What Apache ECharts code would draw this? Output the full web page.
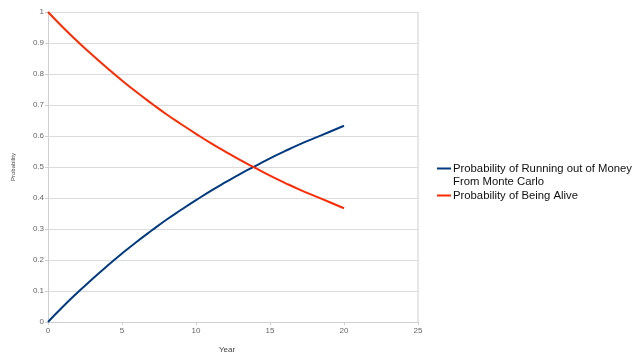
<!DOCTYPE html>
<html>
<head>
<meta charset="utf-8">
<script src="https://cdn.jsdelivr.net/npm/echarts@6/dist/echarts.min.js"></script>
<style>
html, body { margin: 0; padding: 0; background: #fff; }
#chart { width: 640px; height: 362px; }
</style>
</head>
<body>
<div id="chart"></div>
<script>
var years = [0, 1, 2, 3, 4, 5, 6, 7, 8, 9, 10, 11, 12, 13, 14, 15, 16, 17, 18, 19, 20];
// probability of running out of money (Monte Carlo)
var ruinProb = [0, 0.049, 0.095, 0.139, 0.181, 0.221, 0.259, 0.295, 0.330, 0.362, 0.393,
                0.423, 0.451, 0.478, 0.503, 0.528, 0.551, 0.573, 0.593, 0.613, 0.633];
// probability of being alive
var aliveProb = [1, 0.951, 0.905, 0.861, 0.819, 0.779, 0.741, 0.705, 0.670, 0.638, 0.607,
                 0.577, 0.549, 0.522, 0.497, 0.472, 0.449, 0.427, 0.407, 0.387, 0.367];
var seriesNames = ['Probability of Running out of Money\nFrom Monte Carlo', 'Probability of Being Alive'];
var colors = ['#003a82', '#ff2a00'];

function pairs(ys) {
    var out = [];
    for (var i = 0; i < years.length; i++) {
        out.push([years[i], ys[i]]);
    }
    return out;
}

// icon boxes are 15px tall; the dash sits at the top for the two-line label
var iconTop = 'path://M0,0h14v2h-14z M0,15h0.01v0.01h-0.01z';
var iconMid = 'path://M0,6.5h14v2h-14z M0,0h0.01v0.01h-0.01z M0,15h0.01v0.01h-0.01z';

var myChart = echarts.init(document.getElementById('chart'));
var option = {
    animation: false,
    textStyle: { fontFamily: 'Liberation Sans' },
    grid: { left: 48, right: 222, top: 12, bottom: 40 },
    legend: {
        orient: 'vertical',
        left: 432,
        top: 157,
        itemWidth: 14,
        itemHeight: 15,
        itemGap: 0,
        itemStyle: { borderWidth: 0 },
        textStyle: { fontSize: 11.3, color: '#111', lineHeight: 13, fontFamily: 'Liberation Sans', padding: [0, 0, 0, -3] },
        data: [
            { name: seriesNames[0], icon: iconTop },
            { name: seriesNames[1], icon: iconMid }
        ]
    },
    xAxis: {
        type: 'value',
        min: 0,
        max: 25,
        interval: 5,
        name: 'Year',
        nameLocation: 'middle',
        nameGap: 24,
        nameTextStyle: { fontSize: 8, color: '#444', padding: [0, 12, 0, 0] },
        axisLine: { lineStyle: { color: '#d0d0d0' } },
        axisTick: { show: true, length: 3, lineStyle: { color: '#d0d0d0' } },
        axisLabel: { fontSize: 8, color: '#666', margin: 5 },
        splitLine: { show: false }
    },
    yAxis: {
        type: 'value',
        min: 0,
        max: 1,
        interval: 0.1,
        name: 'Probability',
        nameLocation: 'middle',
        nameGap: 32,
        nameTextStyle: { fontSize: 6, color: '#444' },
        axisLine: { show: true, lineStyle: { color: '#d0d0d0' } },
        axisTick: { show: true, length: 3, lineStyle: { color: '#d0d0d0' } },
        axisLabel: { fontSize: 8, color: '#666', margin: 4 },
        splitLine: { show: true, lineStyle: { color: '#dcdcdc' } }
    },
    series: [
        {
            name: seriesNames[0],
            type: 'line',
            data: pairs(ruinProb),
            symbol: 'none',
            smooth: true,
            lineStyle: { color: colors[0], width: 2 },
            itemStyle: { color: colors[0] }
        },
        {
            name: seriesNames[1],
            type: 'line',
            data: pairs(aliveProb),
            symbol: 'none',
            smooth: true,
            lineStyle: { color: colors[1], width: 2 },
            itemStyle: { color: colors[1] }
        }
    ],
    graphic: [{
        type: 'line',
        shape: { x1: 418, y1: 12, x2: 418, y2: 322 },
        style: { stroke: '#d0d0d0', lineWidth: 1 },
        silent: true
    }]
};
myChart.setOption(option);
</script>
</body>
</html>
